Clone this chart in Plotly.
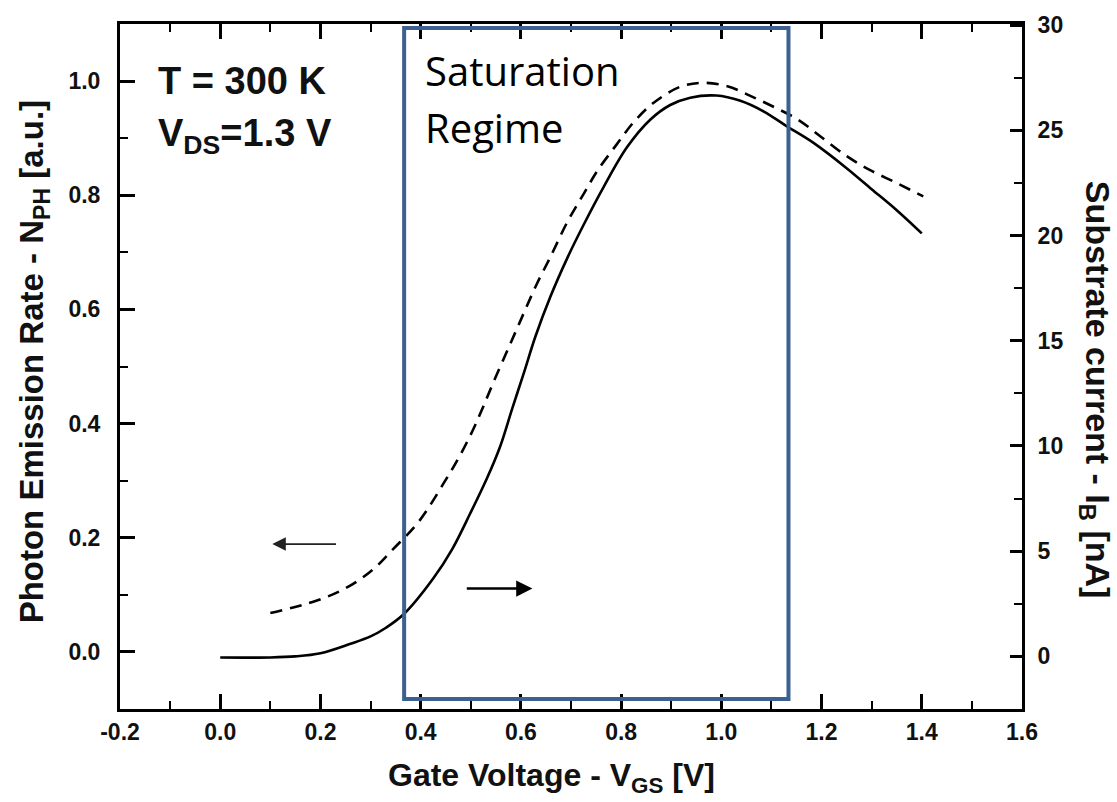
import plotly.graph_objects as go

# ---- data ----
# Photon emission rate N_PH (left axis, dashed)
vgs_ph = [0.10, 0.193, 0.253, 0.303, 0.345, 0.396, 0.449, 0.479, 0.505, 0.525,
          0.545, 0.569, 0.589, 0.609, 0.632, 0.659, 0.692, 0.725, 0.752, 0.792,
          0.825, 0.865, 0.918, 0.964, 1.012, 1.058, 1.104, 1.152, 1.198, 1.251,
          1.297, 1.351, 1.403]
n_ph = [0.068, 0.090, 0.113, 0.143, 0.180, 0.228, 0.300, 0.345, 0.390, 0.430,
        0.472, 0.520, 0.560, 0.600, 0.645, 0.692, 0.752, 0.802, 0.842, 0.890,
        0.928, 0.962, 0.990, 0.997, 0.991, 0.974, 0.955, 0.933, 0.903, 0.868,
        0.844, 0.821, 0.798]

# Substrate current I_B (right axis, solid) [nA]
vgs_ib = [0.0, 0.10, 0.15, 0.20, 0.26, 0.30, 0.33, 0.366, 0.425, 0.463, 0.499, 0.533,
          0.559, 0.583, 0.605, 0.629, 0.659, 0.693, 0.725, 0.765, 0.812, 0.858,
          0.898, 0.938, 0.990, 1.038, 1.084, 1.130, 1.184, 1.250, 1.300, 1.350, 1.400]
i_b = [-0.05, -0.05, 0.0, 0.15, 0.6, 0.95, 1.35, 2.0, 3.7, 5.1, 6.8, 8.5,
       10.0, 11.8, 13.4, 15.2, 17.1, 18.95, 20.5, 22.3, 24.2, 25.5,
       26.2, 26.55, 26.65, 26.4, 25.9, 25.2, 24.4, 23.2, 22.2, 21.2, 20.1]

x_ticks = [-0.2, 0.0, 0.2, 0.4, 0.6, 0.8, 1.0, 1.2, 1.4, 1.6]
x_ticktext = ["-0.2", "0.0", "0.2", "0.4", "0.6", "0.8", "1.0", "1.2", "1.4", "1.6"]
y_ticks = [0.0, 0.2, 0.4, 0.6, 0.8, 1.0]
y_ticktext = ["0.0", "0.2", "0.4", "0.6", "0.8", "1.0"]
y2_ticks = [0, 5, 10, 15, 20, 25, 30]
y2_ticktext = ["0", "5", "10", "15", "20", "25", "30"]

FONT = "Liberation Sans, Arial, sans-serif"

fig = go.Figure()
fig.add_trace(go.Scatter(x=vgs_ph, y=n_ph, mode="lines", yaxis="y",
                         line=dict(color="black", width=2.6, dash="12px,8px", shape="spline", smoothing=1.0),
                         showlegend=False))
fig.add_trace(go.Scatter(x=vgs_ib, y=i_b, mode="lines", yaxis="y2",
                         line=dict(color="black", width=2.6, shape="spline", smoothing=1.0),
                         showlegend=False))

def axis_common():
    return dict(showline=True, linecolor="black", linewidth=3, showgrid=False, zeroline=False,
                ticks="inside", tickcolor="black", tickwidth=2.5,
                tickfont=dict(family=FONT, size=23, color="#111", weight="bold"))

fig.update_layout(
    width=1117, height=802, autosize=False,
    margin=dict(l=120, r=95, t=20, b=93),
    paper_bgcolor="white", plot_bgcolor="white",
    xaxis=dict(range=[-0.2, 1.6], tickmode="array", tickvals=x_ticks, ticktext=x_ticktext,
               ticklen=15, mirror="ticks",
               minor=dict(ticks="inside", ticklen=8, tickwidth=2, tickcolor="black", dtick=0.1, tick0=0),
               **axis_common()),
    yaxis=dict(range=[-0.1, 1.1], tickmode="array", tickvals=y_ticks, ticktext=y_ticktext,
               ticklen=15, mirror=False, ticklabelstandoff=12,
               minor=dict(ticks="inside", ticklen=8, tickwidth=2, tickcolor="black", dtick=0.1, tick0=0),
               **axis_common()),
    yaxis2=dict(range=[-2.5, 30.05], overlaying="y", side="right", tickmode="array",
                tickvals=y2_ticks, ticktext=y2_ticktext, ticklen=12, ticklabelstandoff=8,
                minor=dict(ticks="inside", ticklen=8, tickwidth=2, tickcolor="black", dtick=2.5, tick0=0),
                **axis_common()),
)

title_font = dict(family=FONT, size=33, color="#111", weight="bold")
anns = [
    dict(text="Photon Emission Rate - N<sub>PH</sub> [a.u.]", xref="paper", yref="paper",
         x=-0.095, y=0.5065, textangle=-90, showarrow=False, font=title_font,
         xanchor="center", yanchor="middle"),
    dict(text="Gate Voltage - V<sub>GS</sub> [V]", xref="paper", yref="paper",
         x=0.478, y=-0.1, showarrow=False, font=dict(family=FONT, size=32, color="#111", weight="bold"),
         xanchor="center", yanchor="middle"),
    dict(text="Substrate current - I<sub>B</sub> [nA]", xref="paper", yref="paper",
         x=1.081, y=0.466, textangle=90, showarrow=False,
         font=dict(family=FONT, size=34, color="#111", weight="bold"),
         xanchor="center", yanchor="middle"),
    dict(text="T = 300 K", xref="x", yref="y", x=-0.128, y=1.0, showarrow=False,
         xanchor="left", yanchor="middle", font=dict(family=FONT, size=38, color="#111", weight="bold")),
    dict(text="V<sub>DS</sub>=1.3 V", xref="x", yref="y", x=-0.128, y=0.904, showarrow=False,
         xanchor="left", yanchor="middle", font=dict(family=FONT, size=38, color="#111", weight="bold")),
    dict(text="Saturation", xref="x", yref="y", x=0.405, y=1.019, showarrow=False,
         xanchor="left", yanchor="middle", font=dict(family="Open Sans, sans-serif", size=40, color="black")),
    dict(text="Regime", xref="x", yref="y", x=0.405, y=0.918, showarrow=False,
         xanchor="left", yanchor="middle", font=dict(family="Open Sans, sans-serif", size=40, color="black")),
    dict(text="", xref="x", yref="y", axref="x", ayref="y", x=0.104, y=0.189, ax=0.234, ay=0.189,
         showarrow=True, arrowhead=2, arrowsize=1.5, arrowwidth=1.8, arrowcolor="#222"),
    dict(text="", xref="x", yref="y", axref="x", ayref="y", x=0.623, y=0.111, ax=0.489, ay=0.111,
         showarrow=True, arrowhead=2, arrowsize=1.3, arrowwidth=2.5, arrowcolor="black"),
]
fig.update_layout(annotations=anns)

fig.add_shape(type="rect", xref="x", yref="y", x0=0.367, x1=1.134, y0=-0.0826, y1=1.093,
              line=dict(color="#3C6090", width=4), fillcolor="rgba(0,0,0,0)", layer="above")

fig.write_html("out.html", config={"displayModeBar": False},
               post_script="document.body.style.margin='0';document.body.style.overflow='hidden';")
